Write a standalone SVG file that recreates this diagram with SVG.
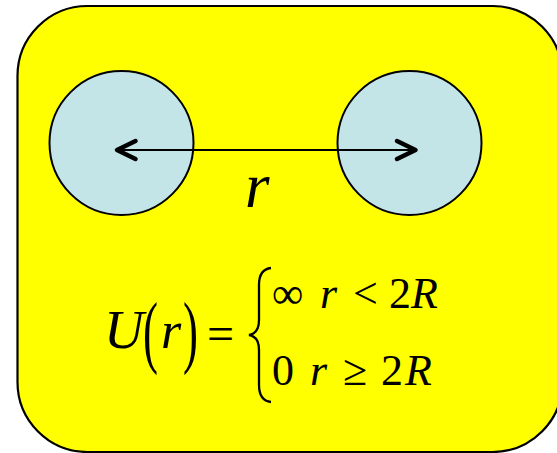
<svg xmlns="http://www.w3.org/2000/svg" width="557" height="453" viewBox="0 0 557 453" font-family="'Liberation Serif', 'Times New Roman', Times, serif">
<style>
text{font-family:'Liberation Serif','Times New Roman',Times,serif;fill:#000}
.i{font-style:italic}
.ball{fill:#c3e5e8;stroke:#000;stroke-width:2}
</style>
<rect width="557" height="453" fill="#fff"/>
<g id="box">
<rect x="17.5" y="6" width="545" height="446" rx="70" ry="70" fill="#ffff00" stroke="#000" stroke-width="2.2"/>
</g>
<g id="particle-left"><circle class="ball" cx="121.5" cy="143" r="72"/></g>
<g id="particle-right"><circle class="ball" cx="409.5" cy="143" r="72"/></g>
<g id="connectors">
<line x1="117" y1="150" x2="415" y2="150" stroke="#000" stroke-width="2"/>
<polyline points="135.5,141 117,150 135.5,159" fill="none" stroke="#000" stroke-width="4.5" stroke-linecap="round" stroke-linejoin="round"/>
<polyline points="397,141 415.5,150 397,159" fill="none" stroke="#000" stroke-width="4.5" stroke-linecap="round" stroke-linejoin="round"/>
</g>
<g id="label-r"><text class="i" x="245" y="207" font-size="63">r</text></g>
<g id="formula">
<text class="i" x="104" y="348" font-size="55">U</text>
<text transform="translate(143,358) scale(0.75,1.35)" x="0" y="0" font-size="60">(</text>
<text class="i" x="161" y="348" font-size="52">r</text>
<text transform="translate(183,358) scale(0.75,1.35)" x="0" y="0" font-size="60">)</text>
<text x="207" y="350" font-size="48">=</text>
<path d="M271 268 C262 269,259 275,259 285 L259 320 C259 330,255 334,249 335 C255 336,259 340,259 350 L259 385 C259 395,262 401,271 402" fill="none" stroke="#000" stroke-width="2.3"/>
<text y="308" font-size="44"><tspan x="272">∞</tspan><tspan class="i" x="320">r</tspan><tspan x="353">&lt;</tspan><tspan x="389">2</tspan><tspan class="i" x="411">R</tspan></text>
<text y="385" font-size="44"><tspan x="272">0</tspan><tspan class="i" x="310">r</tspan><tspan x="343">≥</tspan><tspan x="381">2</tspan><tspan class="i" x="405">R</tspan></text>
</g>
</svg>
